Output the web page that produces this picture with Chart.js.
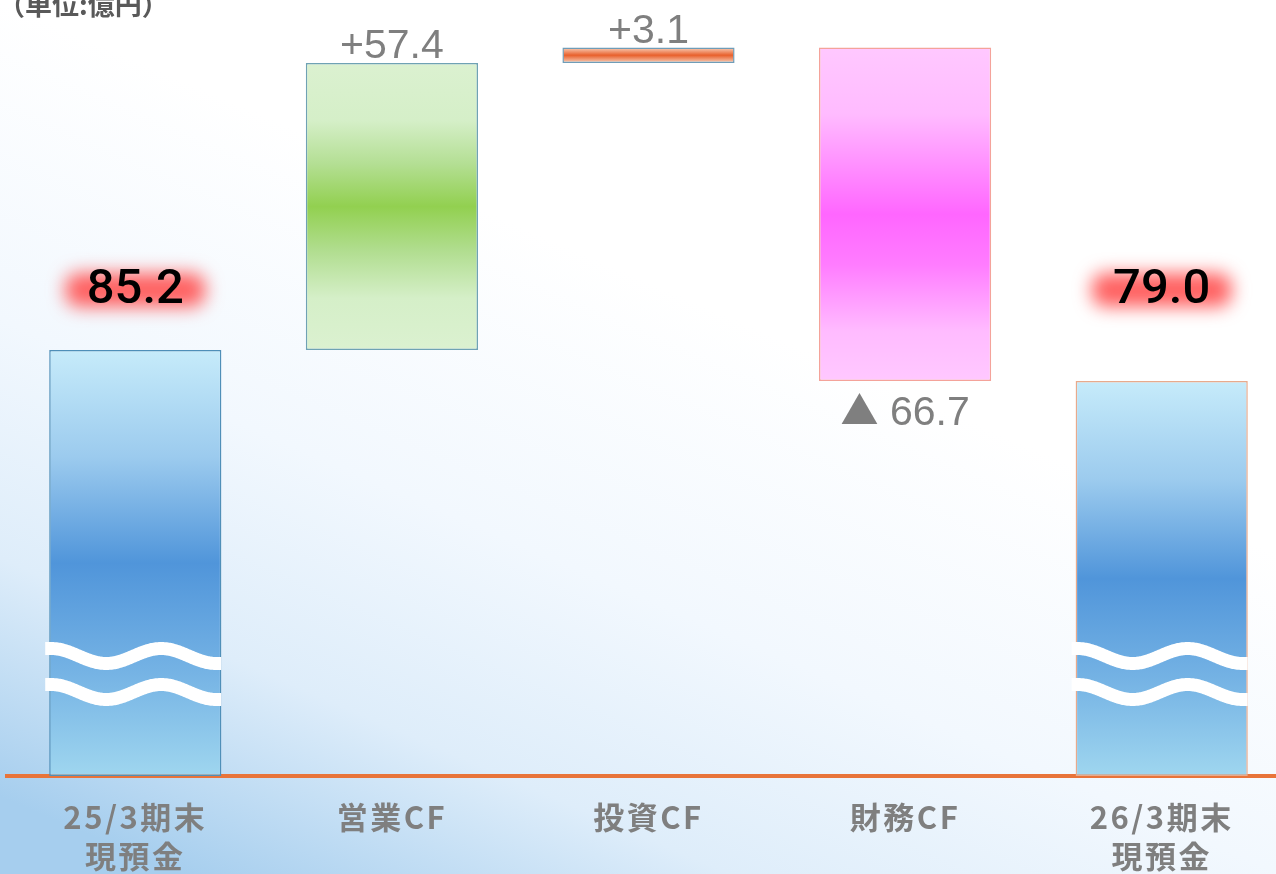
<!DOCTYPE html>
<html>
<head>
<meta charset="utf-8">
<script src="https://cdn.jsdelivr.net/npm/chart.js@4.4.1/dist/chart.umd.min.js"></script>
<style>
  html, body { margin: 0; padding: 0; overflow: hidden; background: #ffffff; }
  #wrap { position: absolute; left: 0; top: 0; width: 1290px; height: 874px; }
</style>
</head>
<body>
<div id="wrap"><canvas id="c"></canvas></div>
<script>
// ---- data ----
const categories = [["25/3期末", "現預金"], "営業CF", "投資CF", "財務CF", ["26/3期末", "現預金"]];
const values = [85.2, 57.4, 3.1, -66.7, 79.0];
const kinds = ["total", "delta", "delta", "delta", "total"];
const unitLabel = "（単位:億円）";
const axisBreakValues = [24.0, 16.8];

// floating ranges for the waterfall built from the values
const ranges = [];
let running = 0;
values.forEach((v, i) => {
  if (kinds[i] === "total") { ranges.push([0, v]); running = v; }
  else { const s = running; running = +(running + v).toFixed(1); ranges.push([s, running]); }
});
const labelTexts = values.map((v, i) => kinds[i] === "total" ? v.toFixed(1) : (v >= 0 ? "+" + v.toFixed(1) : "▲ " + Math.abs(v).toFixed(1)));

const palettes = [
  { stops: [[0, "#c6ebfa"], [0.25, "#9ccbee"], [0.5, "#5095da"], [0.75, "#74b2e4"], [1, "#9fd6ef"]], border: "#4f8fb8" },
  { stops: [[0, "#dbf1d0"], [0.2, "#d5efc8"], [0.35, "#b4df94"], [0.5, "#92d050"], [0.65, "#b0dd8e"], [0.82, "#d5efc8"], [1, "#dbf1d0"]], border: "#6fa2b4" },
  { stops: [[0, "#f9d2bc"], [0.5, "#e8602c"], [1, "#f9d2bc"]], border: "#6f9db8" },
  { stops: [[0, "#ffc8ff"], [0.2, "#ffbbff"], [0.38, "#ff88ff"], [0.5, "#ff66ff"], [0.65, "#ff7cff"], [0.85, "#ffbbff"], [1, "#ffc8ff"]], border: "#f4a39a" },
  { stops: [[0, "#c6ebfa"], [0.25, "#9ccbee"], [0.5, "#5095da"], [0.75, "#74b2e4"], [1, "#9fd6ef"]], border: "#e8aa8c" }
];

function barFill(ctx) {
  const chart = ctx.chart;
  const ys = chart.scales.y;
  if (!chart.chartArea || !ys) return palettes[ctx.dataIndex].stops[2][1];
  const r = ranges[ctx.dataIndex];
  const top = ys.getPixelForValue(Math.max(r[0], r[1]));
  const bot = ys.getPixelForValue(Math.min(r[0], r[1]));
  const g = chart.ctx.createLinearGradient(0, top, 0, bot);
  palettes[ctx.dataIndex].stops.forEach(s => g.addColorStop(s[0], s[1]));
  return g;
}

const bgPlugin = {
  id: "bg",
  beforeDraw(chart) {
    const { ctx, width, height } = chart;
    ctx.save();
    const g = ctx.createLinearGradient(760, 330, 470, 1000);
    g.addColorStop(0, "#ffffff");
    g.addColorStop(0.4, "#f2f8fe");
    g.addColorStop(0.7, "#deedfa");
    g.addColorStop(1, "#a6ceee");
    ctx.fillStyle = g;
    ctx.fillRect(0, 0, width, height);
    // unit label
    ctx.fillStyle = "#595959";
    ctx.font = "bold 27px 'Noto Sans CJK JP'";
    ctx.textAlign = "left";
    ctx.textBaseline = "alphabetic";
    ctx.fillText(unitLabel, -2, 15);
    ctx.restore();
    // spacing for the axis tick labels
    ctx.letterSpacing = "2.5px";
  },
  beforeDatasetsDraw(chart) {
    chart.ctx.letterSpacing = "0px";
  }
};

const marksPlugin = {
  id: "marks",
  afterDatasetsDraw(chart) {
    const { ctx } = chart;
    const ys = chart.scales.y;
    const meta = chart.getDatasetMeta(0);
    ctx.save();
    meta.data.forEach((bar, i) => {
      const half = bar.width / 2;
      const L = bar.x - half, R = bar.x + half;
      const r = ranges[i];
      const topY = ys.getPixelForValue(Math.max(r[0], r[1]));
      const botY = ys.getPixelForValue(Math.min(r[0], r[1]));
      if (kinds[i] === "total") {
        // axis-break waves
        ctx.strokeStyle = "#ffffff";
        ctx.lineWidth = 13;
        ctx.lineCap = "butt";
        axisBreakValues.forEach(bv => {
          const c = ys.getPixelForValue(bv);
          ctx.beginPath();
          for (let x = L - 4; x <= R; x += 1) {
            let t = x - (L + 2);
            t = Math.max(0, Math.min(165, t));
            const y = c - 7.5 * Math.cos(2 * Math.PI * t / 110);
            if (x === L - 4) ctx.moveTo(x, y); else ctx.lineTo(x, y);
          }
          ctx.stroke();
        });
        // glowing total label
        const ly = ys.getPixelForValue(ranges[0][1]) - 60;
        ctx.save();
        ctx.filter = "blur(9px)";
        ctx.fillStyle = "rgba(255,80,80,0.9)";
        ctx.beginPath();
        ctx.roundRect(bar.x - 70, ly - 17, 140, 34, 14);
        ctx.fill();
        ctx.restore();
        ctx.fillStyle = "#000000";
        ctx.font = "500 49px Roboto";
        ctx.textAlign = "center";
        ctx.textBaseline = "middle";
        ctx.fillText(labelTexts[i], bar.x, ly + 1);
      } else {
        ctx.fillStyle = "#7f7f7f";
        ctx.font = "41px 'Liberation Sans'";
        ctx.textAlign = "center";
        ctx.textBaseline = "alphabetic";
        const txt = labelTexts[i];
        if (values[i] >= 0) {
          ctx.fillText(txt, bar.x, topY - 5);
        } else {
          const mark = txt.charAt(0);
          const rest = txt.slice(1);
          ctx.font = "41px 'Liberation Sans'";
          const wRest = ctx.measureText(rest).width;
          ctx.font = "38px 'Noto Sans CJK JP'";
          const wMark = ctx.measureText(mark).width;
          const x0 = bar.x - (wRest + wMark) / 2;
          const by = botY + 44;
          ctx.textAlign = "left";
          ctx.fillText(mark, x0, by - 1);
          ctx.font = "41px 'Liberation Sans'";
          ctx.fillText(rest, x0 + wMark, by);
        }
      }
    });
    ctx.restore();
  }
};

new Chart(document.getElementById("c"), {
  type: "bar",
  data: {
    labels: categories,
    datasets: [{
      data: ranges,
      backgroundColor: barFill,
      borderColor: palettes.map(p => p.border),
      borderWidth: 1.5,
      borderSkipped: false,
      barPercentage: 0.671,
      categoryPercentage: 1.0
    }]
  },
  options: {
    responsive: true,
    maintainAspectRatio: false,
    animation: false,
    layout: { padding: { left: 7, right: 0, top: 26, bottom: 0 } },
    plugins: { legend: { display: false }, tooltip: { enabled: false } },
    scales: {
      x: {
        grid: { display: false, drawTicks: false },
        border: { display: true, color: "#e8743a", width: 4 },
        ticks: {
          color: "#7f7f7f",
          font: { family: "'Noto Sans CJK JP'", size: 31, weight: "bold", lineHeight: 1.26 },
          padding: 22,
          maxRotation: 0,
          autoSkip: false
        },
        afterFit: (s) => { s.height = 98; }
      },
      y: { display: false, min: 0, max: 150 }
    }
  },
  plugins: [bgPlugin, marksPlugin]
});
</script>
</body>
</html>
